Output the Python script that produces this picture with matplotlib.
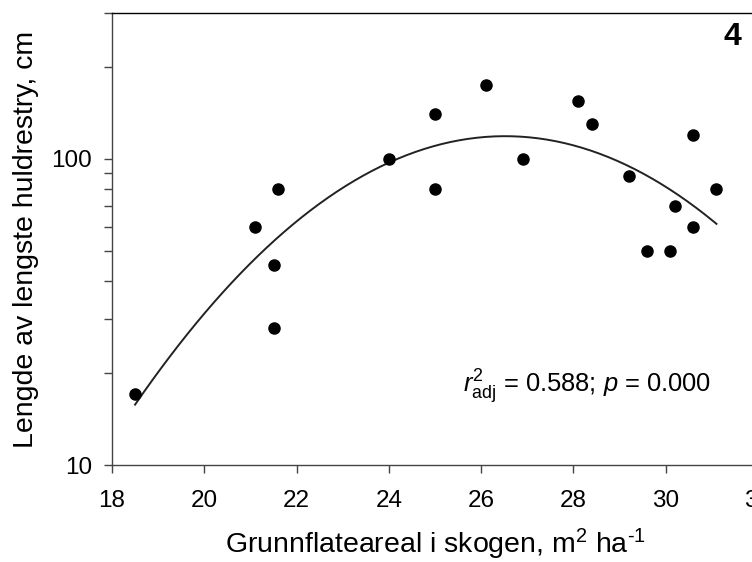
import matplotlib
matplotlib.use("Agg")
import matplotlib.pyplot as plt
from matplotlib.ticker import LogLocator, NullFormatter
import numpy as np

plt.rcParams['font.family'] = ['Liberation Sans', 'DejaVu Sans']
plt.rcParams['mathtext.fontset'] = 'custom'
plt.rcParams['mathtext.rm'] = 'Liberation Sans'
plt.rcParams['mathtext.it'] = 'Liberation Sans:italic'

# basal area (m2/ha) vs length of longest hanging lichen (cm)
basal_area = [18.5, 21.1, 21.5, 21.5, 21.6, 24.0, 25.0, 25.0, 26.1, 26.9,
              28.1, 28.4, 29.2, 29.6, 30.1, 30.2, 30.6, 30.6, 31.1]
lichen_len = [17, 60, 45, 28, 80, 100, 140, 80, 175, 100,
              155, 130, 88, 50, 50, 70, 60, 120, 80]

x = np.array(basal_area)
y = np.array(lichen_len)

# quadratic fit on log scale
coeffs = np.polyfit(x, np.log10(y), 2)
xs = np.linspace(x.min(), x.max(), 200)
ys = 10 ** np.polyval(coeffs, xs)

fig = plt.figure(figsize=(7.52, 5.62), dpi=100)
W, H = 752, 562
ax = fig.add_axes([112 / W, 97 / H, 646 / W, 452 / H])

ax.plot(xs, ys, color='#222222', lw=1.4)
ax.plot(x, y, 'o', color='black', ms=8, mec='black')

ax.set_yscale('log')
ax.set_ylim(10, 300)
ax.set_xlim(18, 32)
ax.set_xticks([18, 20, 22, 24, 26, 28, 30, 32])
ax.set_xticklabels(['18', '20', '22', '24', '26', '28', '30', '32'])
ax.set_yticks([10, 100])
ax.set_yticklabels(['10', '100'])
ax.yaxis.set_minor_locator(LogLocator(base=10, subs=np.arange(2, 10)))
ax.yaxis.set_minor_formatter(NullFormatter())

ax.spines['right'].set_visible(False)
for s in ['left', 'bottom', 'top']:
    ax.spines[s].set_linewidth(1.0)
ax.spines['left'].set_color('#444444')
ax.spines['bottom'].set_color('#444444')
ax.tick_params(which='both', direction='out', length=6, width=1.0,
               color='#444444', labelsize=17.5, top=False, right=False)
ax.tick_params(axis='y', which='major', pad=8.5)
ax.tick_params(axis='x', which='major', pad=12)

ax.set_xlabel('Grunnflateareal i skogen, m$^2$ ha$^{\u20101}$', fontsize=20.5, labelpad=11)
ax.set_ylabel('Lengde av lengste huldrestry, cm', fontsize=20.5, labelpad=9)

ax.text(0.543, 0.173, r'$r^2_{\mathrm{adj}}$ = 0.588; $p$ = 0.000',
        transform=ax.transAxes, fontsize=18.4, ha='left', va='center')
ax.text(741 / W, 1 - 37 / H, '4', transform=fig.transFigure, fontsize=23,
        fontweight='bold', ha='right', va='center')

fig.savefig('out.png', dpi=100)
